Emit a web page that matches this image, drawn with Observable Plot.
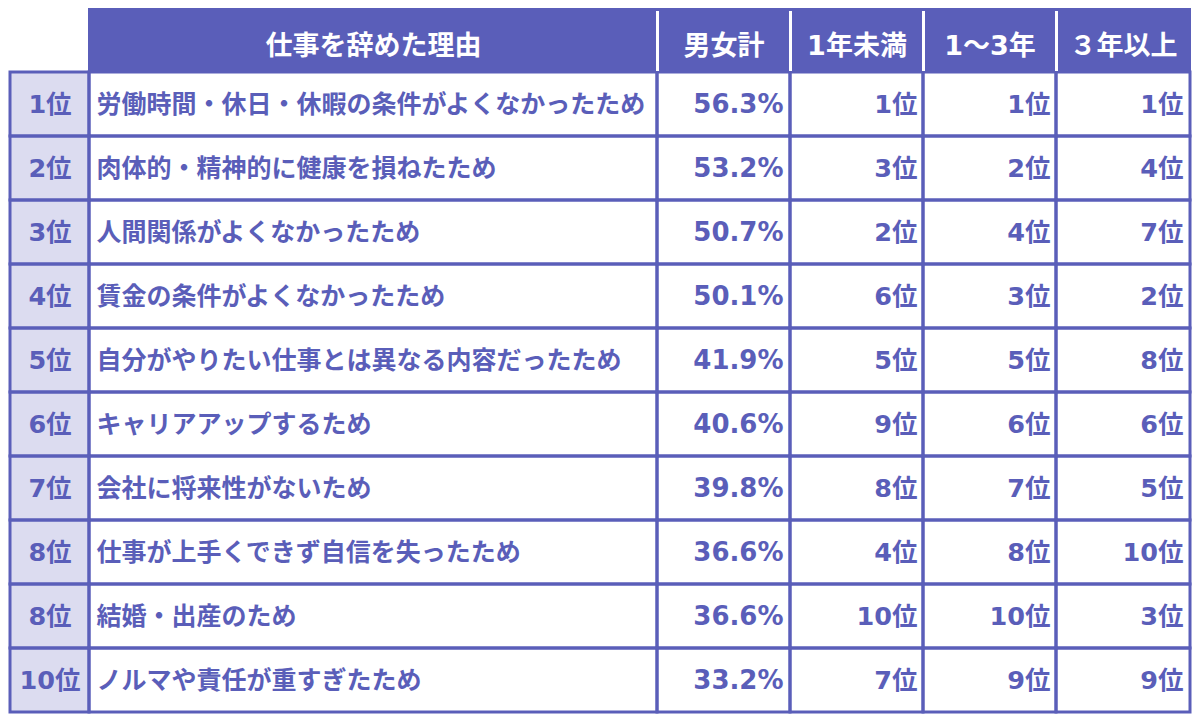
<!DOCTYPE html>
<html>
<head>
<meta charset="utf-8">
<script src="https://cdn.jsdelivr.net/npm/d3@7"></script>
<script src="https://cdn.jsdelivr.net/npm/@observablehq/plot@0.6"></script>
<style>
  html, body { margin: 0; padding: 0; background: #ffffff; }
  #chart svg { display: block; }
</style>
</head>
<body>
<div id="chart"></div>
<script>
// ---- data ----
const headers = ["仕事を辞めた理由", "男女計", "1年未満", "1～3年", "３年以上"];
const ranks = ["1位", "2位", "3位", "4位", "5位", "6位", "7位", "8位", "8位", "10位"];
const reasons = [
  "労働時間・休日・休暇の条件がよくなかったため",
  "肉体的・精神的に健康を損ねたため",
  "人間関係がよくなかったため",
  "賃金の条件がよくなかったため",
  "自分がやりたい仕事とは異なる内容だったため",
  "キャリアアップするため",
  "会社に将来性がないため",
  "仕事が上手くできず自信を失ったため",
  "結婚・出産のため",
  "ノルマや責任が重すぎたため"
];
const totals = [56.3, 53.2, 50.7, 50.1, 41.9, 40.6, 39.8, 36.6, 36.6, 33.2];
const rankUnder1 = [1, 3, 2, 6, 5, 9, 8, 4, 10, 7];
const rank1to3 = [1, 2, 4, 3, 5, 6, 7, 8, 10, 9];
const rankOver3 = [1, 4, 7, 2, 8, 6, 5, 10, 3, 9];

// ---- layout ----
const colEdges = [10, 89, 657, 790, 923, 1056, 1190];
const main = "#5a5eb9";
const light = "#dcdcf0";
const font = "'DejaVu Sans', 'Noto Sans CJK JP', sans-serif";

const rowIdx = d3.range(1, ranks.length + 1);
const rows = rowIdx.map((r, i) => ({
  row: r,
  rank: ranks[i],
  reason: reasons[i],
  total: totals[i].toFixed(1) + "%",
  c1: rankUnder1[i] + "位",
  c2: rank1to3[i] + "位",
  c3: rankOver3[i] + "位"
}));
const cells = rows.flatMap(d => d3.range(6).map(c => ({row: d.row, x1: colEdges[c], x2: colEdges[c + 1]})));
const headerCells = headers.map((h, i) => ({label: h, x: (colEdges[i + 1] + colEdges[i + 2]) / 2}));
const seps = colEdges.slice(2, 6);

const plot = Plot.plot({
  width: 1200,
  height: 722,
  margin: 0,
  style: {fontFamily: font, background: "#ffffff"},
  x: {type: "linear", domain: [0, 1200], range: [0, 1200], axis: null},
  y: {type: "band", domain: d3.range(0, 11), range: [7, 712], padding: 0, axis: null},
  marks: [
    // header background
    Plot.barX([0], {x1: 88, x2: 1191, y: 0, fill: main}),
    // rank column fill
    Plot.barX(rows, {x1: colEdges[0], x2: colEdges[1], y: "row", fill: light}),
    // cell borders
    Plot.barX(cells, {x1: "x1", x2: "x2", y: "row", fill: "none", stroke: main, strokeWidth: 3}),
    // header separators
    Plot.ruleX(seps, {x: d => d, y: () => 0, stroke: "#ffffff", strokeWidth: 3, insetTop: 3, insetBottom: 1}),
    // header text
    Plot.text(headerCells, {x: "x", y: () => 0, text: "label", fill: "#ffffff", fontSize: 27, fontWeight: "bold", dy: 6, fontFamily: font}),
    // rank labels
    Plot.text(rows, {x: (colEdges[0] + colEdges[1]) / 2, y: "row", text: "rank", fill: main, fontSize: 25.5, fontWeight: "bold", fontFamily: font}),
    // reasons
    Plot.text(rows, {x: colEdges[1] + 7, y: "row", text: "reason", textAnchor: "start", fill: main, fontSize: 25, fontWeight: "bold", fontFamily: font}),
    // totals
    Plot.text(rows, {x: colEdges[3] - 7, y: "row", text: "total", textAnchor: "end", fill: main, fontSize: 26, fontWeight: "bold", fontFamily: font}),
    Plot.text(rows, {x: colEdges[4] - 6, y: "row", text: "c1", textAnchor: "end", fill: main, fontSize: 25.5, fontWeight: "bold", fontFamily: font}),
    Plot.text(rows, {x: colEdges[5] - 6, y: "row", text: "c2", textAnchor: "end", fill: main, fontSize: 25.5, fontWeight: "bold", fontFamily: font}),
    Plot.text(rows, {x: colEdges[6] - 7, y: "row", text: "c3", textAnchor: "end", fill: main, fontSize: 25.5, fontWeight: "bold", fontFamily: font})
  ]
});
document.getElementById("chart").appendChild(plot);
</script>
</body>
</html>
